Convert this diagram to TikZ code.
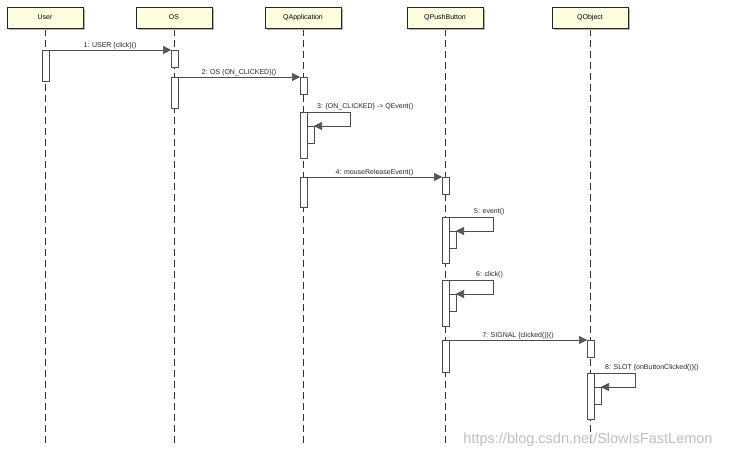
\documentclass[tikz,border=0pt]{standalone}
\usepackage{fontspec}
\setmainfont{Liberation Sans}
\usetikzlibrary{arrows.meta,shadows}
\begin{document}
\begin{tikzpicture}[x=1pt,y=-1pt,
  head/.style={draw=black!85,line width=0.8pt,fill=yellow!12,minimum width=76pt,minimum height=21pt,font=\fontsize{7}{8}\selectfont,drop shadow={shadow xshift=2pt,shadow yshift=-2pt,fill=black!30,opacity=1}},
  life/.style={draw=black!80,dash pattern=on 7pt off 4pt,line width=0.6pt},
  act/.style={draw=black!70,fill=white,line width=0.5pt},
  msg/.style={draw=black!70,line width=0.6pt,-{Triangle[length=8pt,width=8pt,fill=black!65]}},
  lbl/.style={font=\fontsize{7}{8}\selectfont,text=black!85,inner sep=1pt}]
\useasboundingbox (0,0) rectangle (734,460);
\fill[white] (0,0) rectangle (734,460);
\foreach \n/\x/\t in {u/45/User,o/174/OS,a/303/QApplication,p/445/QPushButton,q/590/QObject}{
  \draw[life] (\x,29) -- (\x,445);
  \node[head] (\n) at (\x,17.5) {\t};
}
% activations
\newcommand{\ac}[3]{\draw[act] (#1-3,#2) rectangle (#1+4,#3);}
\ac{45}{50}{81}
\ac{174}{50}{67}\ac{174}{77}{108}
\ac{303}{77}{94}\ac{303}{112}{158}\draw[act] (307,126) rectangle (314,143);
\ac{303}{177}{207}
\ac{445}{177}{194}\ac{445}{217}{263}\draw[act] (449,231) rectangle (456,248);
\ac{445}{280}{326}\draw[act] (449,294) rectangle (456,311);
\ac{445}{340}{372}
\ac{590}{340}{357}\ac{590}{373}{419}\draw[act] (594,387) rectangle (601,404);
% messages
\coordinate (m1a) at (49,50); \coordinate (m1b) at (171,50);
\draw[msg] (m1a) -- node[lbl,above]{1: USER \{click\}()} (m1b);
\coordinate (m2a) at (178,77); \coordinate (m2b) at (300,77);
\draw[msg] (m2a) -- node[lbl,above]{2: OS \{ON\_CLICKED\}()} (m2b);
\coordinate (m4a) at (307,177); \coordinate (m4b) at (442,177);
\draw[msg] (m4a) -- node[lbl,above]{4: mouseReleaseEvent()} (m4b);
\coordinate (m7a) at (449,340); \coordinate (m7b) at (587,340);
\draw[msg] (m7a) -- node[lbl,above]{7: SIGNAL \{clicked()\}()} (m7b);
% self messages
\draw[msg] (307,112) -- (350,112) -- (350,126) -- (314,126);
\node[lbl,anchor=south west] at (316,111) {3: \{ON\_CLICKED\} -> QEvent()};
\draw[msg] (449,217) -- (493,217) -- (493,231) -- (456,231);
\node[lbl,anchor=south west] at (473,216) {5: event()};
\draw[msg] (449,280) -- (493,280) -- (493,294) -- (456,294);
\node[lbl,anchor=south west] at (475,279) {6: click()};
\draw[msg] (594,373) -- (635,373) -- (635,387) -- (601,387);
\node[lbl,anchor=south west] at (604,372) {8: SLOT \{onButtonClicked()\}()};
\node[text=black!25,font=\fontsize{14.5}{15}\selectfont,anchor=center] at (588,440) {https://blog.csdn.net/SlowIsFastLemon};
\end{tikzpicture}
\end{document}
